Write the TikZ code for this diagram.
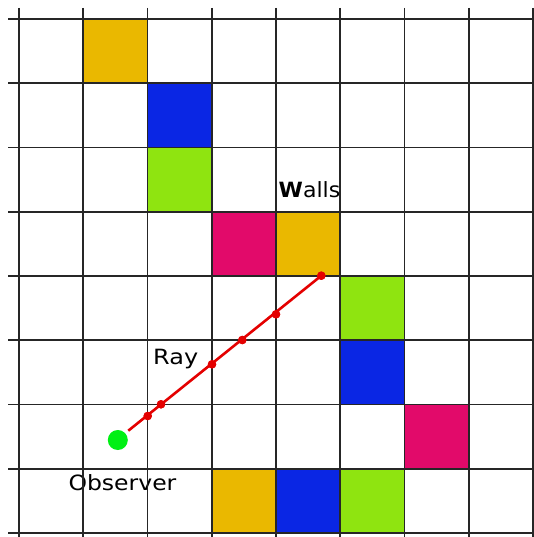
\documentclass[tikz,border=0pt]{standalone}
\usepackage{fontspec}
\setmainfont{DejaVu Sans}
\usepackage{graphicx}
\definecolor{wallorange}{RGB}{234,184,0}
\definecolor{wallblue}{RGB}{10,38,228}
\definecolor{wallgreen}{RGB}{143,228,16}
\definecolor{wallpink}{RGB}{226,10,106}
\definecolor{raycol}{RGB}{228,0,0}
\definecolor{obscol}{RGB}{0,240,20}
\tikzset{
  gridline/.style={line width=1.6pt, black!85},
  wallcell/.style={fill=#1, draw=none},
  hitdot/.style={circle, fill=raycol, inner sep=0pt, minimum size=8.5pt},
  raylabel/.style={anchor=base west, inner sep=0pt, font=\fontsize{21}{25}\selectfont},
}
\newcommand{\cellsz}{64.25}
\begin{document}
\begin{tikzpicture}[x=1pt, y=-1pt]
  \useasboundingbox (0,0) rectangle (534,537);
  \fill[white] (0,0) rectangle (534,537);
  % wall cells: {column/row}
  \foreach \c/\r/\col in {1/0/wallorange, 2/1/wallblue, 2/2/wallgreen,
      3/3/wallpink, 4/3/wallorange, 5/4/wallgreen, 5/5/wallblue,
      6/6/wallpink, 3/7/wallorange, 4/7/wallblue, 5/7/wallgreen}
    \fill[wallcell=\col] ({19+\c*\cellsz},{19+\r*\cellsz}) rectangle ++(\cellsz,\cellsz);
  % labels
  \node[raylabel] (walls) at (278.5,197.7) {\scalebox{1.05}[1]{\textbf{W}alls}};
  \node[raylabel] (raytxt) at (153,364.3) {\scalebox{1.14}[1]{Ray}};
  \node[raylabel] (obstxt) at (68.3,490) {\scalebox{1.12}[1]{Observer}};
  % grid
  \foreach \i in {0,...,8} {
    \draw[gridline] (8,{19+\i*\cellsz}) -- (534,{19+\i*\cellsz});
    \draw[gridline] ({19+\i*\cellsz},8) -- ({19+\i*\cellsz},537);
  }
  % ray and its grid crossings
  \coordinate (rs) at (128.3,430.7);
  \node[hitdot] (h1) at (147.7,416) {};
  \node[hitdot] (h2) at (161,404.3) {};
  \node[hitdot] (h3) at (212,364.3) {};
  \node[hitdot] (h4) at (242.3,340) {};
  \node[hitdot] (h5) at (276,314.3) {};
  \node[hitdot] (h6) at (321.3,275.7) {};
  \draw[raycol, line width=2.6pt] (rs) -- (h6.center);
  \foreach \n in {h1,h2,h3,h4,h5,h6}
    \fill[raycol] (\n) circle (4.2);
  \node[circle, fill=obscol, inner sep=0pt, minimum size=20pt] (obs) at (117.8,440) {};
\end{tikzpicture}
\end{document}
